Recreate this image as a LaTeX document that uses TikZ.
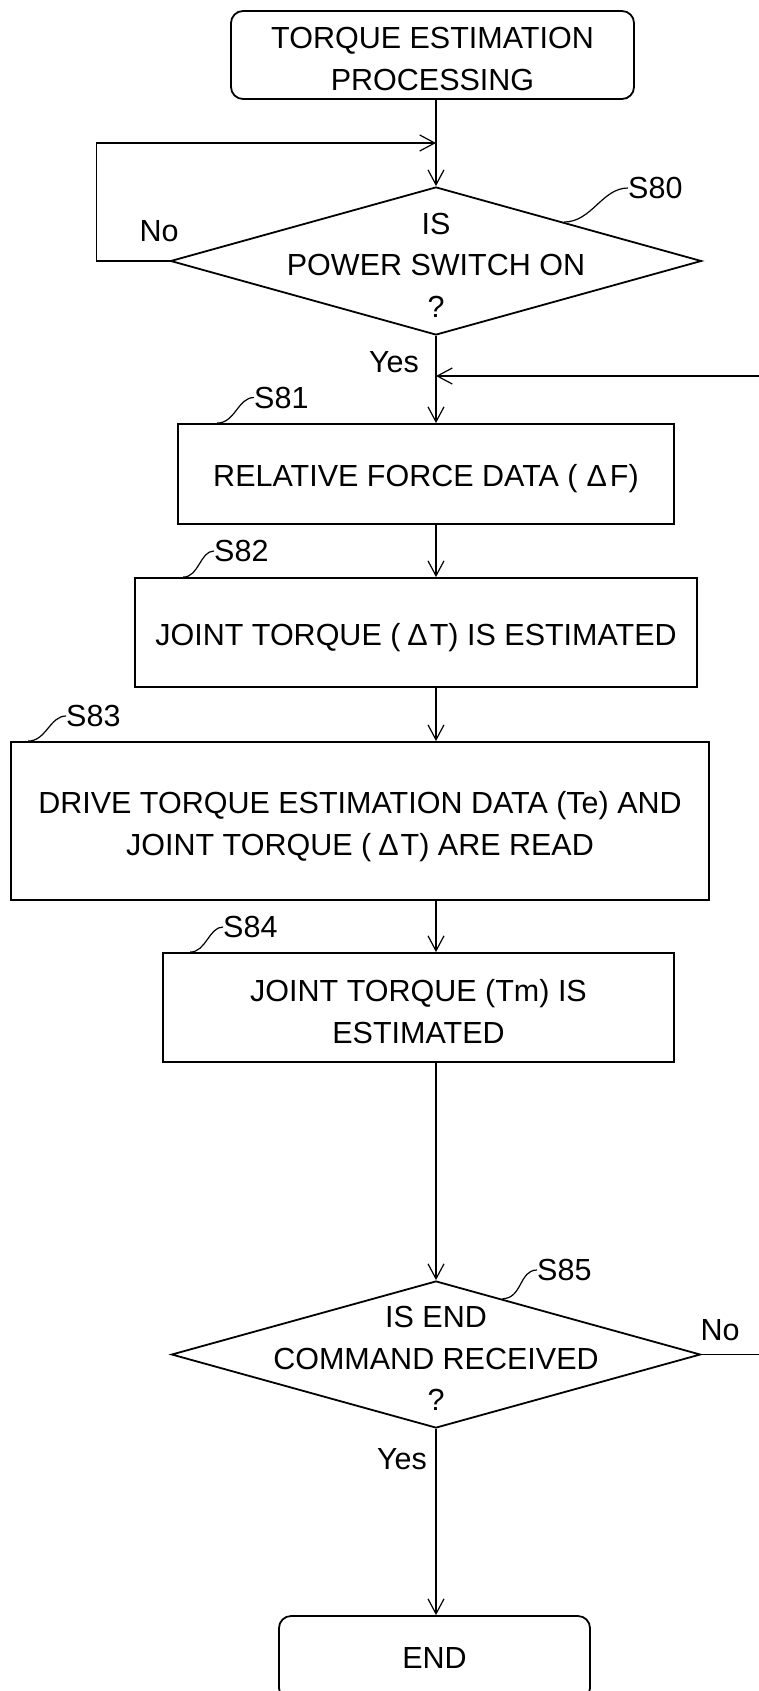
\documentclass[tikz,border=0pt]{standalone}
\usepackage{fontspec}
\setmainfont{Liberation Sans}
\usetikzlibrary{shapes.geometric,arrows.meta,calc}
\begin{document}
\begin{tikzpicture}[x=1pt,y=-1pt,
  every node/.style={font=\fontsize{30.5}{41.5}\selectfont},
  box/.style={draw,line width=1.8pt,inner sep=0pt},
  rbox/.style={box,rounded corners=12pt},
  dia/.style={draw,diamond,line width=1.8pt,inner sep=0pt},
  txt/.style={align=center,inner sep=0pt},
  lbl/.style={inner sep=0pt,anchor=west},
  arr/.style={line width=1.2pt,-{Straight Barb[length=15pt,width=16pt,line width=1.2pt]}},
  lead/.style={line width=1.2pt},
]
\path[use as bounding box] (0,0) rectangle (758,1691);
\fill[white] (0,0) rectangle (758,1691);

% shapes
\node[rbox,minimum width=403pt,minimum height=88pt] (start) at (432.5,55) {};
\node[dia,minimum width=531pt,minimum height=148pt] (d80) at (436,261) {};
\node[box,minimum width=496pt,minimum height=100pt] (s81) at (426,474) {};
\node[box,minimum width=562pt,minimum height=109pt] (s82) at (416,632.5) {};
\node[box,minimum width=698pt,minimum height=158pt] (s83) at (360,821) {};
\node[box,minimum width=511pt,minimum height=109pt] (s84) at (418.5,1007.5) {};
\node[dia,minimum width=529pt,minimum height=147pt] (d85) at (436,1354.5) {};
\node[rbox,minimum width=311pt,minimum height=84pt] (end) at (434.5,1658) {};

% texts
\node[txt] (tstart) at ($(start)+(0,4)$) {TORQUE ESTIMATION\\PROCESSING};
\node[txt] (t80) at ($(d80)+(0,4)$) {IS\\POWER SWITCH ON\\?};
\node[txt] (t81) at ($(s81)+(0,5)$) {RELATIVE FORCE DATA (\hspace{9pt}Δ\hspace{3pt}F)};
\node[txt] (t82) at ($(s82)+(0,5.5)$) {JOINT TORQUE (\hspace{7pt}Δ\hspace{2pt}T) IS ESTIMATED};
\node[txt] (t83) at ($(s83)+(0,5.5)$) {DRIVE TORQUE ESTIMATION DATA (Te) AND\\JOINT TORQUE (\hspace{7pt}Δ\hspace{2pt}T) ARE READ};
\node[txt] (t84) at ($(s84)+(0,4)$) {JOINT TORQUE (Tm) IS\\ESTIMATED};
\node[txt] (t85) at ($(d85)+(0,4)$) {IS END\\COMMAND RECEIVED\\?};
\node[txt] (tend) at (end) {END};

% step labels
\node[lbl] (l80) at (628,188) {S80};
\node[lbl] (l81) at (254,397.5) {S81};
\node[lbl] (l82) at (214,551) {S82};
\node[lbl] (l83) at (66,716) {S83};
\node[lbl] (l84) at (223,927) {S84};
\node[lbl] (l85) at (537,1270) {S85};

% branch labels
\node (no80) at (159,231) {No};
\node (yes80) at (394,362.5) {Yes};
\node (no85) at (720,1330) {No};
\node (yes85) at (402,1459) {Yes};

% junctions
\coordinate (j80) at (436,143);
\coordinate (j81) at (436,376);

% connectors
\draw[arr] (start.south -| d80.north) -- (d80.north);
\draw[arr] (d80.west) -- ++(-73,0) |- (j80);
\draw[arr] (d80.south) -- (s81.north -| d80.south);
\draw[arr] (d85.east) -- ++(90,0) |- (j81);
\draw[arr] (s81.south -| d80.south) -- (s82.north -| d80.south);
\draw[arr] (s82.south -| d80.south) -- (s83.north -| d80.south);
\draw[arr] (s83.south -| d80.south) -- (s84.north -| d80.south);
\draw[arr] (s84.south -| d85.north) -- (d85.north);
\draw[arr] (d85.south) -- (end.north -| d85.south);

% leaders
\draw[lead] ($(d80.north)!0.48!(d80.east)$) .. controls +(28,0) and +(-26,0) .. (l80.west);
\draw[lead] ($(s81.north west)+(40,0)$) .. controls +(18,0) and +(-16,0) .. (l81.west);
\draw[lead] ($(s82.north west)+(49,0)$) .. controls +(16,0) and +(-14,0) .. (l82.west);
\draw[lead] ($(s83.north west)+(18,0)$) .. controls +(18,0) and +(-16,0) .. (l83.west);
\draw[lead] ($(s84.north west)+(28,0)$) .. controls +(16,0) and +(-14,0) .. (l84.west);
\draw[lead] ($(d85.north)!0.25!(d85.east)$) .. controls +(20,0) and +(-18,0) .. (l85.west);
\end{tikzpicture}
\end{document}
